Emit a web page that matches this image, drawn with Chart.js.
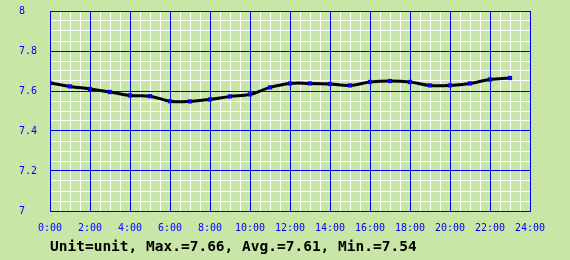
<!DOCTYPE html>
<html>
<head>
<meta charset="utf-8">
<script src="https://cdn.jsdelivr.net/npm/chart.js@4"></script>
<style>
  html, body { margin: 0; padding: 0; background: #c8e6a6; }
  #wrap { position: relative; width: 570px; height: 260px; }
  #footer {
    position: absolute; left: 50px; top: 238px;
    font: bold 14.5px "DejaVu Sans Mono", monospace; color: #000;
    white-space: pre;
  }
</style>
</head>
<body>
<div id="wrap">
  <canvas id="grafico" width="570" height="260"></canvas>
  <div id="footer">Unit=unit, Max.=7.66, Avg.=7.61, Min.=7.54</div>
</div>
<script>
const ctx = document.getElementById('grafico');

// hourly readings
const hours = [0, 1, 2, 3, 4, 5, 6, 7, 8, 9, 10, 11, 12, 13, 14, 15, 16, 17, 18, 19, 20, 21, 22, 23];
const values = [7.64, 7.623, 7.61, 7.595, 7.578, 7.574, 7.549, 7.548, 7.558, 7.573, 7.583, 7.618,
                7.638, 7.638, 7.635, 7.628, 7.645, 7.65, 7.645, 7.628, 7.628, 7.638, 7.658, 7.665];
const yMin = 7, yMax = 8;
const xMin = 0, xMax = 24;

let points = []
for (var i = 0; i < hours.length; i++) {
    points.push({ x: hours[i], y: values[i] })
}

const blue = '#0000ff';
const tickFont = { family: 'DejaVu Sans Mono', size: 10 };

// keep the plot box fixed, labels may hang outside it
function fixY(s, w) {
    s.width = w;
    s.paddingTop = 0;
    s.paddingBottom = 0;
}

new Chart(ctx, {
    type: 'line',
    data: {
        datasets: [{
            data: points,
            borderColor: '#000',
            borderWidth: 3,
            tension: 0.4,
            pointStyle: 'rect',
            pointRadius: 3,
            pointBackgroundColor: blue,
            pointBorderWidth: 0
        }]
    },
    options: {
        responsive: false,
        animation: false,
        layout: { padding: { left: 19, right: 40, top: 11, bottom: 0 } },
        plugins: { legend: { display: false }, tooltip: { enabled: false } },
        scales: {
            // white minor grid, drawn underneath
            xMinor: {
                type: 'linear', position: 'bottom', min: xMin, max: xMax, z: -1,
                afterFit: (s) => { s.height = 0; },
                ticks: { display: false, stepSize: 0.5 },
                grid: { drawTicks: false, color: '#ffffff' },
                border: { display: false }
            },
            yMinor: {
                type: 'linear', position: 'left', min: yMin, max: yMax, z: -1,
                afterFit: (s) => fixY(s, 0),
                ticks: { display: false, stepSize: 0.05 },
                grid: { drawTicks: false, color: '#ffffff' },
                border: { display: false }
            },
            x: {
                type: 'linear',
                min: xMin, max: xMax,
                afterFit: (s) => { s.height = 49; s.paddingLeft = 0; s.paddingRight = 0; },
                ticks: {
                    stepSize: 2,
                    autoSkip: false,
                    maxRotation: 0,
                    color: blue,
                    font: tickFont,
                    padding: 11,
                    callback: (v) => v + ':00'
                },
                grid: { drawTicks: false, color: blue },
                border: { color: blue }
            },
            y: {
                min: yMin, max: yMax,
                afterFit: (s) => fixY(s, 31),
                ticks: {
                    stepSize: 0.2,
                    autoSkip: false,
                    crossAlign: 'far',
                    color: blue,
                    font: tickFont,
                    padding: 13,
                    callback: (v) => String(Math.round(v * 10) / 10)
                },
                grid: { drawTicks: false, color: blue },
                border: { color: blue }
            }
        }
    }
});
</script>
</body>
</html>
